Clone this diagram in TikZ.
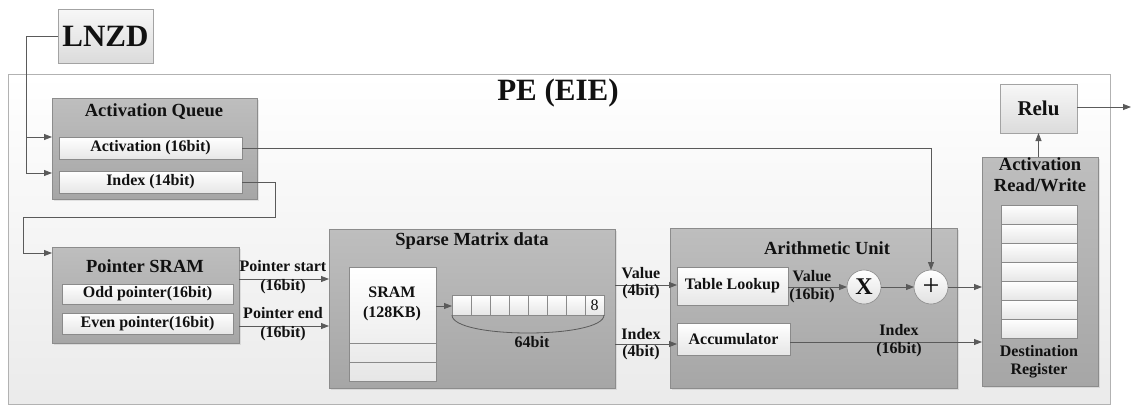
\documentclass[tikz,border=0pt]{standalone}
\usepackage{fontspec}
\setmainfont{Liberation Serif}
\usetikzlibrary{arrows.meta,shadows}
\definecolor{gtop}{HTML}{BEBEBE}
\definecolor{gbot}{HTML}{A6A6A6}
\definecolor{gborder}{HTML}{8C8C8C}
\definecolor{wborder}{HTML}{8A8A8A}
\definecolor{wbot}{HTML}{E6E6E6}
\definecolor{lc}{HTML}{5A5A5A}
\definecolor{txt}{HTML}{111111}
\begin{document}
\begin{tikzpicture}[x=1pt,y=-1pt,
  shd/.style={drop shadow={shadow xshift=1.5pt, shadow yshift=-1.5pt, opacity=0.18}},
  gbox/.style={draw=gborder, top color=gtop, bottom color=gbot, line width=0.8pt, anchor=north west, inner sep=0pt, outer sep=0pt, shd},
  wbox/.style={draw=wborder, top color=white, bottom color=wbot, line width=0.6pt, anchor=north west, inner sep=0pt, outer sep=0pt, text=txt, font=\bfseries\fontsize{16}{18}\selectfont},
  lbox/.style={draw=gborder!80, top color=white!97!black, bottom color=white!86!black, line width=0.7pt, anchor=north west, inner sep=0pt, outer sep=0pt, text=txt},
  cellbox/.style={draw=wborder, top color=white, bottom color=wbot, line width=0.5pt, anchor=north west, inner sep=0pt, outer sep=0pt, minimum width=19pt, minimum height=20pt},
  opc/.style={circle, draw=wborder, top color=white, bottom color=white!88!black, line width=0.6pt, minimum size=34pt, inner sep=0pt, outer sep=0pt, text=txt},
  lbl/.style={font=\bfseries\fontsize{16}{18}\selectfont, inner sep=0pt, text=txt, align=center},
  ttl/.style={font=\bfseries\fontsize{18.5}{21}\selectfont, inner sep=0pt, text=txt},
  conn/.style={draw=lc, line width=0.8pt},
  arr/.style={conn, -{Triangle[length=8pt,width=6pt]}}]
\useasboundingbox (0,0) rectangle (1133,405);
\fill[white] (0,0) rectangle (1133,405);

% PE outer
\node[lbox, draw=black!30, top color=white, bottom color=white!92!black, minimum width=1102pt, minimum height=330pt] (pe) at (8,74) {};
\node[inner sep=0pt, text=txt, font=\bfseries\fontsize{31}{34}\selectfont] (petitle) at (558,93) {PE (EIE)};

% LNZD
\node[lbox, minimum width=95pt, minimum height=54pt, font=\bfseries\fontsize{31}{34}\selectfont] (lnzd) at (58,9) {LNZD};

% Activation queue
\node[gbox, minimum width=205pt, minimum height=101pt] (aq) at (52,98) {};
\node[ttl] (aqt) at (154,112) {Activation Queue};
\node[wbox, minimum width=183pt, minimum height=22pt] (act) at (59,137) {Activation (16bit)};
\node[wbox, minimum width=183pt, minimum height=22pt] (idx) at (59,171) {Index (14bit)};

% Pointer SRAM
\node[gbox, minimum width=187pt, minimum height=96pt] (ps) at (52,247) {};
\node[ttl] (pst) at (145,266) {Pointer SRAM};
\node[wbox, minimum width=171pt, minimum height=20pt] (odd) at (62,284) {Odd pointer(16bit)};
\node[wbox, minimum width=171pt, minimum height=21pt] (even) at (62,313) {Even pointer(16bit)};

% Sparse matrix data
\node[gbox, minimum width=286pt, minimum height=159pt] (sm) at (329,229) {};
\node[ttl] (smt) at (472,241) {Sparse Matrix data};
\node[wbox, minimum width=87pt, minimum height=114pt] (sram) at (349,267) {};
\draw[draw=wborder, line width=0.6pt] (349,343) -- (436,343) (349,362) -- (436,362);
\node[lbl] (sramt) at (392,304) {SRAM\\[2pt](128KB)};
\foreach \i in {1,...,8} {
  \node[cellbox] (r\i) at ({452+(\i-1)*19},295) {};
}
\node[inner sep=0pt, text=txt, font=\fontsize{16}{18}\selectfont] (eight) at (r8) {8};
\draw[conn] (r1.south west) .. controls +(0,24) and +(0,24) .. (r8.south east);
\node[lbl] (bits) at (532,342) {64bit};

% Arithmetic unit
\node[gbox, minimum width=287pt, minimum height=160pt] (au) at (670,228) {};
\node[ttl] (aut) at (827,248) {Arithmetic Unit};
\node[wbox, minimum width=111pt, minimum height=38pt] (tl) at (677,267) {Table Lookup};
\node[wbox, minimum width=113pt, minimum height=32pt] (acc) at (677,323) {Accumulator};
\node[opc, font=\bfseries\fontsize{24}{26}\selectfont] (mul) at (864,287) {X};
\node[opc, font=\fontsize{30}{32}\selectfont] (add) at (931,287) {+};

% Activation read/write
\node[gbox, minimum width=116pt, minimum height=229pt] (rw) at (982,157) {};
\node[ttl, align=center] (rwt) at (1040,175) {Activation\\Read/Write};
\foreach \i in {1,...,7} {
  \node[cellbox, minimum width=76pt, minimum height=19pt] (d\i) at (1001,{205+(\i-1)*19}) {};
}
\node[lbl] (dest) at (1039,362) {Destination\\Register};

% Relu
\node[lbox, minimum width=77pt, minimum height=49pt, font=\bfseries\fontsize{21}{24}\selectfont] (relu) at (1000,84) {Relu};
\coordinate (out) at (1131,107);

% connectors
\draw[conn] (lnzd.west) -- (26,36) -- (26,173);
\draw[arr] (26,137) -- (aq.west |- 0,137);
\draw[arr] (26,173) -- (aq.west |- 0,173);
\draw[conn] (idx.east) -- (275,182) -- (275,217) -- (23,217) -- (23,253);
\draw[arr] (23,253) -- (ps.west |- 0,253);
\draw[arr] (act.east) -- (931,148) -- (add.north);
\draw[arr] (ps.east |- 0,279) -- (sm.west |- 0,279);
\draw[arr] (ps.east |- 0,326) -- (sm.west |- 0,326);
\node[lbl] (pstart) at (283,266) {Pointer start};
\node[lbl] (pstartb) at (283,287) {(16bit)};
\node[lbl] (pend) at (283,313) {Pointer end};
\node[lbl] (pendb) at (283,334) {(16bit)};
\draw[arr] (sram.east |- 0,306) -- (r1.west |- 0,306);
\draw[arr] (sm.east |- 0,285) -- (tl.west |- 0,285);
\node[lbl] (vl) at (641,273) {Value};
\node[lbl] (vlb) at (641,292) {(4bit)};
\draw[arr] (sm.east |- 0,344) -- (acc.west |- 0,344);
\node[lbl] (il) at (641,334) {Index};
\node[lbl] (ilb) at (641,353) {(4bit)};
\draw[arr] (tl.east |- mul.west) -- (mul.west);
\node[lbl] (v16) at (812,276) {Value};
\node[lbl] (v16b) at (812,296) {(16bit)};
\draw[arr] (mul.east) -- (add.west);
\draw[arr] (add.east) -- (rw.west |- add.east);
\draw[arr] (acc.east |- 0,342) -- (rw.west |- 0,342);
\node[lbl] (i16) at (899,330) {Index};
\node[lbl] (i16b) at (899,350) {(16bit)};
\draw[arr] (rw.north -| relu.south) -- (relu.south);
\draw[arr] (relu.east |- out) -- (out);
\end{tikzpicture}
\end{document}
